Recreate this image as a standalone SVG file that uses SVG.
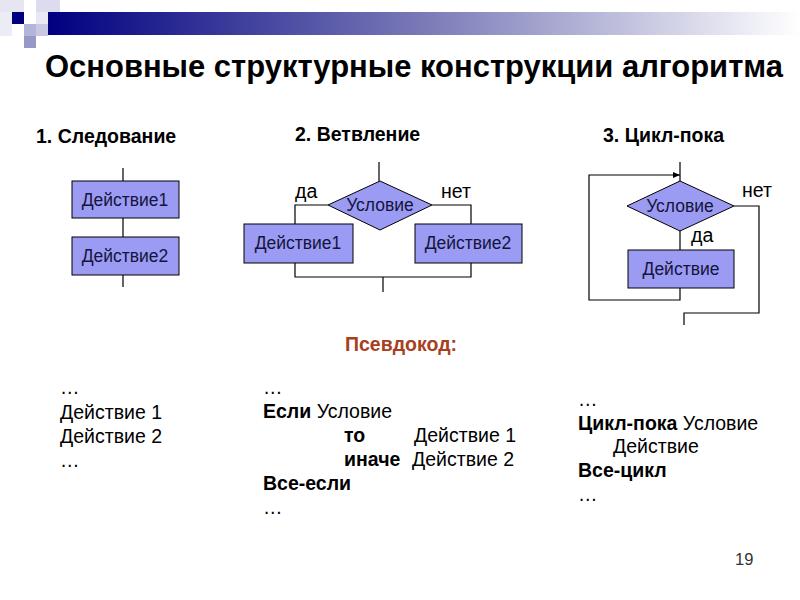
<svg xmlns="http://www.w3.org/2000/svg" width="800" height="600" viewBox="0 0 800 600">
<defs>
<linearGradient id="bar" x1="0" y1="0" x2="1" y2="0">
<stop offset="0" stop-color="#000080"/>
<stop offset="0.5" stop-color="#7a7ab8"/>
<stop offset="1" stop-color="#ffffff"/>
</linearGradient>
<marker id="arr" markerWidth="8" markerHeight="6" refX="7" refY="3" orient="auto" markerUnits="userSpaceOnUse">
<path d="M0,0 L7,3 L0,6 z" fill="#000"/>
</marker>
<style>
text{font-family:"Liberation Sans",Arial,sans-serif;}
.t{font-size:31px;font-weight:bold;fill:#000;}
.h{font-size:19.5px;font-weight:bold;fill:#000;}
.box{fill:#9b9bf3;stroke:#000;stroke-width:1;}
.bt{font-size:17.5px;fill:#14143c;text-anchor:middle;}
.lbl{font-size:19.5px;fill:#000;}
.ln{fill:none;stroke:#000;stroke-width:1.2;}
.p{font-size:19.5px;fill:#000;}
.pb{font-size:19.5px;font-weight:bold;fill:#000;}
</style>
</defs>
<rect width="800" height="600" fill="#fff"/>
<g id="banner">
<rect x="48" y="12" width="752" height="23" fill="url(#bar)"/>
<rect x="0" y="0" width="24" height="12" fill="#e6e6f2"/>
<rect x="36" y="0" width="24" height="12" fill="#dcdcee"/>
<rect x="0" y="12" width="12" height="24" fill="#ececf6"/>
<rect x="12" y="12" width="12" height="12" fill="#000080"/>
<rect x="36" y="12" width="12" height="12" fill="#e8e8f4"/>
<rect x="24" y="24" width="12" height="12" fill="#b4b4da"/>
<rect x="36" y="24" width="12" height="12" fill="#c8c8e4"/>
<rect x="24" y="36" width="12" height="12" fill="#9898c8"/>
</g>
<text class="t" x="45" y="77" textLength="738" lengthAdjust="spacingAndGlyphs">Основные структурные конструкции алгоритма</text>
<text class="h" x="36" y="143">1. Следование</text>
<text class="h" x="295" y="141">2. Ветвление</text>
<text class="h" x="603" y="142">3. Цикл-пока</text>
<g id="connectors">
<path class="ln" d="M123,168 V181 M123,218 V237 M123,275 V287"/>
<path class="ln" d="M379,162 V181 M328,205 H295 V224 M432,205 H471 V224 M295,263 V277 H471 V263 M383,277 V292"/>
<path class="ln" d="M680,162 V181 M680,231 V250 M734,206 H759 V313 H684 V325"/>
<path class="ln" d="M680,288 V300 H589 V175 H680" marker-end="url(#arr)"/>
</g>
<g id="seq1">
<rect class="box" x="72" y="181" width="107" height="37"/>
<text class="bt" x="125" y="206">Действие1</text>
</g>
<g id="seq2">
<rect class="box" x="72" y="237" width="107" height="38"/>
<text class="bt" x="125" y="262">Действие2</text>
</g>
<g id="br-cond">
<polygon class="box" points="380,181 432,205 380,230 328,205"/>
<text class="bt" x="380" y="211">Условие</text>
</g>
<g id="br-act1">
<rect class="box" x="244" y="224" width="109" height="39"/>
<text class="bt" x="298" y="249">Действие1</text>
</g>
<g id="br-act2">
<rect class="box" x="415" y="224" width="107" height="39"/>
<text class="bt" x="468" y="249">Действие2</text>
</g>
<text class="lbl" x="295" y="198">да</text>
<text class="lbl" x="441" y="198">нет</text>
<g id="loop-cond">
<polygon class="box" points="680,181 734,206 680,231 627,206"/>
<text class="bt" x="680" y="212">Условие</text>
</g>
<g id="loop-act">
<rect class="box" x="628" y="250" width="106" height="38"/>
<text class="bt" x="681" y="275">Действие</text>
</g>
<text class="lbl" x="742" y="197">нет</text>
<text class="lbl" x="691" y="242">да</text>
<text x="345" y="351" style="font-size:19.5px;font-weight:bold;fill:#a8401e">Псевдокод:</text>
<g id="code1">
<text class="p" x="60" y="394">…</text>
<text class="p" x="60" y="419">Действие 1</text>
<text class="p" x="60" y="443">Действие 2</text>
<text class="p" x="60" y="467">…</text>
</g>
<g id="code2">
<text class="p" x="263" y="394">…</text>
<text x="263" y="418"><tspan class="pb">Если</tspan><tspan class="p"> Условие</tspan></text>
<text class="pb" x="344" y="442">то</text>
<text class="p" x="414" y="442">Действие 1</text>
<text class="pb" x="344" y="466">иначе</text>
<text class="p" x="412" y="466">Действие 2</text>
<text class="pb" x="263" y="490">Все-если</text>
<text class="p" x="263" y="514">…</text>
</g>
<g id="code3">
<text class="p" x="578" y="406">…</text>
<text x="578" y="430"><tspan class="pb">Цикл-пока</tspan><tspan class="p"> Условие</tspan></text>
<text class="p" x="613" y="453">Действие</text>
<text class="pb" x="578" y="477">Все-цикл</text>
<text class="p" x="578" y="501">…</text>
</g>
<text x="735" y="565" style="font-size:16.5px;fill:#333">19</text>
</svg>
